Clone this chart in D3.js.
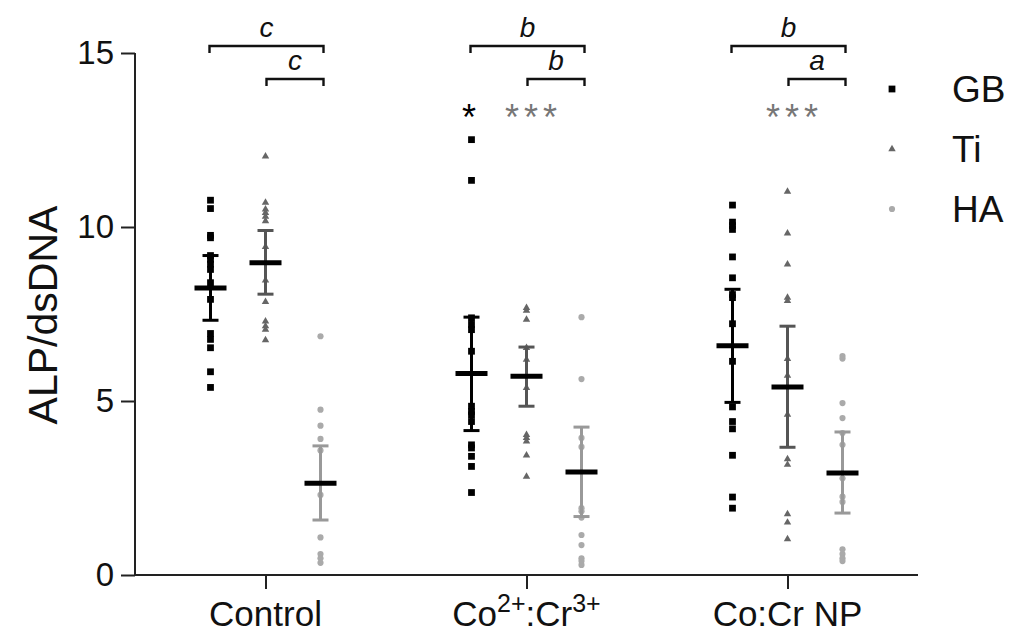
<!DOCTYPE html>
<html lang="en">
<head>
<meta charset="utf-8">
<title>ALP/dsDNA</title>
<script src="https://d3js.org/d3.v7.min.js"></script>
<style>
  body { margin: 0; background: #fff; }
  text { font-family: "Liberation Sans", Arial, sans-serif; }
</style>
</head>
<body>
<script>
// categories and series
var categories = ['Control', 'Co2', 'CoCrNP'];
var series = ['GB', 'Ti', 'HA'];

// individual points
var gbPoints = [
  [10.77, 10.53, 9.76, 9.69, 9.18, 9.07, 8.93, 8.78, 8.4, 7.92, 6.94, 6.77, 6.53, 5.84, 5.39],
  [12.51, 11.34, 7.39, 7.2, 7.05, 6.43, 4.85, 4.7, 4.6, 4.41, 3.74, 3.65, 3.41, 3.12, 2.37],
  [10.63, 10.14, 10.04, 9.93, 9.14, 8.54, 8.06, 7.97, 7.22, 6.14, 4.83, 4.41, 4.2, 3.44, 2.24, 1.92]
];
var tiPoints = [
  [12.03, 10.7, 10.51, 10.41, 10.3, 10.17, 9.43, 8.47, 7.85, 7.29, 7.15, 7.05, 6.75],
  [7.68, 7.6, 7.34, 6.53, 6.19, 5.38, 4.03, 3.94, 3.84, 3.44, 2.83],
  [11.02, 9.82, 8.93, 7.97, 7.88, 6.21, 5.73, 4.61, 3.33, 3.17, 1.75, 1.51, 1.03]
];
var haPoints = [
  [6.86, 4.75, 4.29, 3.91, 3.58, 2.3, 1.08, 0.6, 0.48, 0.35],
  [7.41, 5.63, 3.94, 3.68, 1.92, 1.83, 1.65, 1.15, 0.86, 0.48, 0.4, 0.29],
  [6.29, 6.22, 4.94, 4.51, 4.08, 3.74, 2.78, 2.25, 2.1, 0.74, 0.6, 0.48, 0.4]
];

// means and error bar ends
var gbMean = [8.25, 5.79, 6.59];
var tiMean = [8.97, 5.71, 5.4];
var haMean = [2.64, 2.96, 2.93];
var gbLow = [7.32, 4.15, 4.96], gbHigh = [9.18, 7.41, 8.21];
var tiLow = [8.07, 4.85, 3.67], tiHigh = [9.9, 6.55, 7.15];
var haLow = [1.58, 1.68, 1.78], haHigh = [3.71, 4.25, 4.11];

// significance letters and stars
var topLetters = ['c', 'b', 'b'];
var lowLetters = ['c', 'b', 'a'];
var stars = [
  {cat: 'Co2', s: 'GB', text: '*'},
  {cat: 'Co2', s: 'Ti', text: '***'},
  {cat: 'CoCrNP', s: 'Ti', text: '***'}
];

var yTicks = [0, 5, 10, 15];

var colors = {GB: '#000', Ti: '#666', HA: '#aaa'};
var barColors = {GB: '#000', Ti: '#555', HA: '#999'};

var svg = d3.select('body').append('svg')
  .attr('width', 1016)
  .attr('height', 638);

var x = d3.scalePoint().domain(categories).range([135, 918]).padding(0.5);
var off = d3.scalePoint().domain(series).range([-55, 55]);
var y = d3.scaleLinear().domain([0, 15]).range([575, 53]);

var table = [];
series.forEach(function (s) {
  var pts = s == 'GB' ? gbPoints : s == 'Ti' ? tiPoints : haPoints;
  var m = s == 'GB' ? gbMean : s == 'Ti' ? tiMean : haMean;
  var lo = s == 'GB' ? gbLow : s == 'Ti' ? tiLow : haLow;
  var hi = s == 'GB' ? gbHigh : s == 'Ti' ? tiHigh : haHigh;
  categories.forEach(function (c, i) {
    table.push({s: s, c: c, pts: pts[i], mean: m[i], lo: lo[i], hi: hi[i]});
  });
});

function cx(d) { return x(d.c) + off(d.s); }

// axes
var yAxis = svg.append('g')
  .attr('transform', 'translate(135,0)')
  .call(d3.axisLeft(y).tickValues(yTicks).tickSize(14).tickPadding(7));
var xAxis = svg.append('g')
  .attr('transform', 'translate(0,575)')
  .call(d3.axisBottom(x).tickSize(14).tickFormat(''));
[yAxis, xAxis].forEach(function (g) {
  g.selectAll('path').attr('stroke', '#222').attr('stroke-width', 2);
  g.selectAll('line').attr('stroke', '#222').attr('stroke-width', 2);
});
yAxis.selectAll('text')
  .attr('font-size', 33)
  .attr('fill', '#111')
  .style('font-family', '"Liberation Sans", Arial, sans-serif');
xAxis.select('path').attr('d', 'M135,0H918');
yAxis.select('path').attr('d', 'M0,575V53');

// x labels with superscripts
var xl = svg.append('g').attr('font-size', 35).attr('fill', '#111');
xl.append('text').attr('x', x('Control')).attr('y', 626).attr('text-anchor', 'middle').text('Control');
var t2 = xl.append('text').attr('x', x('Co2')).attr('y', 626).attr('text-anchor', 'middle');
t2.append('tspan').text('Co');
t2.append('tspan').attr('dy', -14).attr('font-size', 25).text('2+');
t2.append('tspan').attr('dy', 14).text(':Cr');
t2.append('tspan').attr('dy', -14).attr('font-size', 25).text('3+');
xl.append('text').attr('x', x('CoCrNP')).attr('y', 626).attr('text-anchor', 'middle').text('Co:Cr NP');

// y label
svg.append('text')
  .attr('transform', 'translate(57,315) rotate(-90)')
  .attr('text-anchor', 'middle')
  .attr('font-size', 41)
  .attr('fill', '#111')
  .text('ALP/dsDNA');

// symbols
var sym = {
  GB: d3.symbol().type(d3.symbolSquare).size(46),
  Ti: d3.symbol().type(d3.symbolTriangle).size(24),
  HA: d3.symbol().type(d3.symbolCircle).size(30)
};

var groups = svg.selectAll('g.grp')
  .data(table)
  .enter()
  .append('g')
  .attr('class', 'grp');

groups.each(function (d) {
  var g = d3.select(this);
  g.selectAll('path.pt')
    .data(d.pts)
    .enter()
    .append('path')
    .attr('class', 'pt')
    .attr('d', sym[d.s]())
    .attr('transform', function (v) { return 'translate(' + cx(d) + ',' + y(v) + ')'; })
    .attr('fill', colors[d.s]);
  // error bar
  g.append('line')
    .attr('x1', cx(d)).attr('x2', cx(d))
    .attr('y1', y(d.lo)).attr('y2', y(d.hi))
    .attr('stroke', barColors[d.s]).attr('stroke-width', 3);
  [d.lo, d.hi].forEach(function (v) {
    g.append('line')
      .attr('x1', cx(d) - 8).attr('x2', cx(d) + 8)
      .attr('y1', y(v)).attr('y2', y(v))
      .attr('stroke', barColors[d.s]).attr('stroke-width', 3);
  });
  // mean
  g.append('line')
    .attr('x1', cx(d) - 16).attr('x2', cx(d) + 16)
    .attr('y1', y(d.mean)).attr('y2', y(d.mean))
    .attr('stroke', '#000').attr('stroke-width', 5);
});

// brackets
function bracket(x1, x2, yy, label) {
  svg.append('path')
    .attr('d', 'M' + x1 + ',' + (yy + 7) + 'V' + yy + 'H' + x2 + 'V' + (yy + 7))
    .attr('fill', 'none')
    .attr('stroke', '#111')
    .attr('stroke-width', 2.4);
  svg.append('text')
    .attr('x', (x1 + x2) / 2)
    .attr('y', yy - 9)
    .attr('text-anchor', 'middle')
    .attr('font-size', 28)
    .attr('font-style', 'italic')
    .attr('fill', '#111')
    .text(label);
}
categories.forEach(function (c, i) {
  bracket(x(c) + off('GB') - 1, x(c) + off('HA') + 3, 46, topLetters[i]);
  bracket(x(c) + off('Ti') + 1, x(c) + off('HA') + 3, 79, lowLetters[i]);
});

// stars
svg.selectAll('text.star')
  .data(stars)
  .enter()
  .append('text')
  .attr('class', 'star')
  .attr('x', function (d) { return x(d.cat) + off(d.s) + (d.text.length > 1 ? 7 : 0); })
  .attr('y', 130)
  .attr('text-anchor', 'middle')
  .attr('font-size', 36)
  .attr('letter-spacing', 5)
  .attr('fill', function (d) { return d.s == 'GB' ? '#000' : '#777'; })
  .text(function (d) { return d.text; });

// legend
var leg = svg.selectAll('g.leg')
  .data(series)
  .enter()
  .append('g')
  .attr('class', 'leg')
  .attr('transform', function (d, i) { return 'translate(892,' + (89 + i * 60) + ')'; });
leg.append('path')
  .attr('d', function (d) { return sym[d](); })
  .attr('fill', function (d) { return colors[d]; });
leg.append('text')
  .attr('x', 60)
  .attr('dy', '0.36em')
  .attr('font-size', 37)
  .attr('fill', '#111')
  .text(function (d) { return d; });
</script>
</body>
</html>
